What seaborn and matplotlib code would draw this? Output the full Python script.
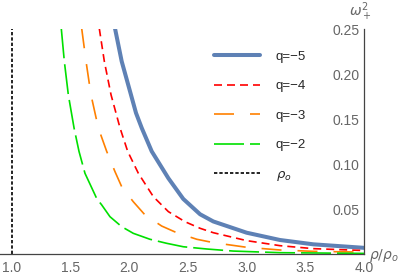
import matplotlib
matplotlib.use("Agg")
import matplotlib.pyplot as plt
import seaborn as sns
from matplotlib.ticker import MultipleLocator

# ==========================================================
# values
# ==========================================================
x_q5 = [1.878, 1.935, 2.014, 2.057, 2.106, 2.191, 2.333, 2.46, 2.603, 2.716, 3.0, 3.284, 3.568, 4.0]
y_q5 = [0.251, 0.2144, 0.1773, 0.157, 0.1403, 0.1144, 0.0845, 0.0615, 0.0445, 0.0365, 0.024, 0.0159, 0.0111, 0.0072]

x_q4 = [1.744, 1.787, 1.844, 1.921, 1.986, 2.077, 2.205, 2.333, 2.475, 2.603, 2.716, 3.0, 3.284, 3.568, 4.0]
y_q4 = [0.251, 0.2144, 0.1773, 0.1403, 0.1144, 0.090, 0.064, 0.0474, 0.0362, 0.0289, 0.024, 0.0152, 0.0096, 0.0063, 0.0042]

x_q3 = [1.594, 1.631, 1.673, 1.736, 1.807, 1.878, 1.935, 2.034, 2.134, 2.276, 2.404, 2.575, 2.716, 3.0, 3.284, 3.568, 4.0]
y_q3 = [0.251, 0.2144, 0.1773, 0.1403, 0.1144, 0.0918, 0.0751, 0.0584, 0.0437, 0.0314, 0.024, 0.0167, 0.013, 0.0078, 0.0048, 0.0033, 0.0024]

x_q2 = [1.42, 1.446, 1.48, 1.529, 1.571, 1.622, 1.722, 1.765, 1.835, 1.935, 2.034, 2.176, 2.319, 2.46, 2.66, 2.886, 3.284, 4.0]
y_q2 = [0.251, 0.2144, 0.1773, 0.1403, 0.1144, 0.090, 0.062, 0.0548, 0.0418, 0.0307, 0.0233, 0.0167, 0.0122, 0.0084, 0.0059, 0.0036, 0.0018, 0.0010]

rho_o = 1.0

curves = [
    ("q=\u22125", x_q5, y_q5, "#5E81B5", 2.9, "-"),
    ("q=\u22124", x_q4, y_q4, "#FF0000", 1.2, (0, (4.8, 3.0))),
    ("q=\u22123", x_q3, y_q3, "#FF8000", 1.2, (0, (12, 9.6))),
    ("q=\u22122", x_q2, y_q2, "#00E000", 1.2, (0, (18, 3.6))),
]

sns.set_style("white")
plt.rcParams["font.family"] = ["Liberation Sans", "DejaVu Sans"]
plt.rcParams["mathtext.fontset"] = "dejavusans"

fig = plt.figure(figsize=(4.15, 2.79), dpi=100)
ax = fig.add_axes([0.0, 0.0885, 0.877, 0.8065])

for label, xs, ys, col, lw, ls in curves:
    sns.lineplot(x=xs, y=ys, ax=ax, color=col, lw=lw, linestyle=ls, label=label,
                 solid_joinstyle="round", dash_joinstyle="round")
ax.axvline(rho_o, color="black", lw=1.2, linestyle=(0, (2.0, 1.2)), label=r"$\rho_o$")

ax.set_xlim(0.8977, 4.0)
ax.set_ylim(0, 0.25)

# mathematica style axes: y axis sits at x=4
for s in ["top", "right"]:
    ax.spines[s].set_visible(False)
ax.spines["left"].set_position(("data", 4.0))
for s in ["left", "bottom"]:
    ax.spines[s].set_color("#444444")
    ax.spines[s].set_linewidth(0.9)

ax.xaxis.set_major_locator(MultipleLocator(0.5))
ax.xaxis.set_minor_locator(MultipleLocator(0.1))
ax.yaxis.set_major_locator(MultipleLocator(0.05))
ax.yaxis.set_minor_locator(MultipleLocator(0.01))
ax.xaxis.set_major_formatter(plt.FormatStrFormatter("%.1f"))
ax.yaxis.set_major_formatter(plt.FormatStrFormatter("%.2f"))
ax.set_yticks([0.05, 0.10, 0.15, 0.20, 0.25])
ax.tick_params(which="both", direction="in", color="#444444", labelcolor="#666666", labelsize=10)
ax.tick_params(which="major", length=3.2, width=0.8)
ax.tick_params(which="minor", length=1.8, width=0.7)
ax.tick_params(axis="x", pad=5)
ax.tick_params(axis="y", pad=3)
ax.set_xlabel("")
ax.set_ylabel("")

fig.text(0.868, 0.957, r"$\omega_+^2$", color="#666666", fontsize=10, ha="center", va="center")
fig.text(0.890, 0.083, r"$\rho/\rho_o$", color="#666666", fontsize=10, ha="left", va="center")

ax.legend(loc="upper left", bbox_to_anchor=(0.515, 0.818), bbox_transform=fig.transFigure,
          frameon=False, fontsize=9.5, handlelength=3.5, handletextpad=1.2,
          labelspacing=1.3, borderpad=0, borderaxespad=0)

fig.savefig("out.png", dpi=100)
